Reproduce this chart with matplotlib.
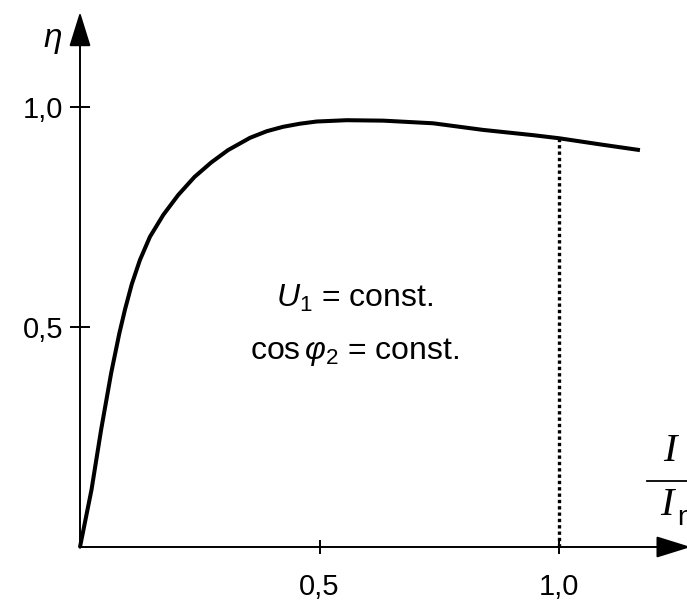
import numpy as np
from matplotlib import pyplot as plt

# Wirkungsgrad-Kennlinie
i_rel = [0.0, 0.024, 0.044, 0.065, 0.082, 0.094, 0.108, 0.125, 0.146, 0.174,
         0.205, 0.239, 0.274, 0.309, 0.355, 0.390, 0.424, 0.459, 0.494, 0.557,
         0.633, 0.737, 0.841, 0.946, 1.0, 1.086, 1.169]
eta = [0.0, 0.130, 0.266, 0.395, 0.485, 0.540, 0.597, 0.652, 0.705, 0.755,
       0.800, 0.841, 0.874, 0.902, 0.930, 0.945, 0.955, 0.962, 0.967, 0.970,
       0.969, 0.963, 0.948, 0.936, 0.929, 0.915, 0.902]

x_ticks = [0.5, 1.0]
x_tick_labels = ['0,5', '1,0']
y_ticks = [0.5, 1.0]
y_tick_labels = ['0,5', '1,0']
i_nenn = 1.0
eta_nenn = 0.929

plt.rcParams['font.family'] = ['Liberation Sans', 'DejaVu Sans']
plt.rcParams['mathtext.fontset'] = 'custom'
plt.rcParams['mathtext.rm'] = 'Liberation Sans'
plt.rcParams['mathtext.it'] = 'Liberation Sans:italic'

W, H = 687, 601
fig = plt.figure(figsize=(W / 100, H / 100), dpi=100)
# Ursprung bei Pixel (80, 547), 1 Einheit = 479 px (x) bzw. 440 px (y)
ax = fig.add_axes([80 / W, (H - 547) / H, (W - 80) / W, 547 / H])
ax.set_xlim(0, (W - 80) / 479)
ax.set_ylim(0, 547 / 440)
for s in ax.spines.values():
    s.set_visible(False)

# Achsen mit Pfeilen
pfeil = dict(arrowstyle='-|>,head_length=0.9,head_width=0.28', lw=1.4, color='k',
             mutation_scale=24, shrinkA=0, shrinkB=0)
ax.annotate('', xy=(0, 1.216), xytext=(0, -0.002), arrowprops=pfeil,
            annotation_clip=False)
ax.annotate('', xy=(1.275, 0), xytext=(-0.002, 0), arrowprops=pfeil,
            annotation_clip=False)

ax.set_xticks(x_ticks)
ax.set_xticklabels(x_tick_labels)
ax.set_yticks(y_ticks)
ax.set_yticklabels(y_tick_labels)
ax.tick_params(axis='both', direction='inout', width=1.4, labelsize=21)
ax.tick_params(axis='x', length=10, pad=13.5)
ax.tick_params(axis='y', length=15, pad=4.5)

ax.plot(i_rel, eta, color='k', lw=2.9, solid_capstyle='butt', solid_joinstyle='round',
        clip_on=False)
ax.plot([i_nenn, i_nenn], [0, eta_nenn], color='k', lw=2.4, linestyle=(0, (1, 0.9)))

ax.text(-0.058, 1.150, r'$\eta$', fontsize=24, ha='center', va='center')
ax.text(0.574, 0.566, r'$U_1$ = const.', fontsize=23, ha='center', va='center')
ax.text(0.574, 0.443, r'cos$\,\varphi_2$ = const.', fontsize=23, ha='center', va='center')

# I / In am rechten Rand (im Original ebenfalls am Rand abgeschnitten)
ax.text(1.232, 0.216, 'I', fontsize=29, family='Liberation Serif', style='italic',
        ha='center', va='center', clip_on=False)
ax.plot([1.184, 1.30], [0.150, 0.150], color='k', lw=1.3, clip_on=False)
ax.text(1.226, 0.095, 'I', fontsize=29, family='Liberation Serif', style='italic',
        ha='center', va='center', clip_on=False)
ax.text(1.246, 0.066, 'n', fontsize=20, ha='left', va='center', clip_on=False)

fig.savefig('out.png', dpi=100)
